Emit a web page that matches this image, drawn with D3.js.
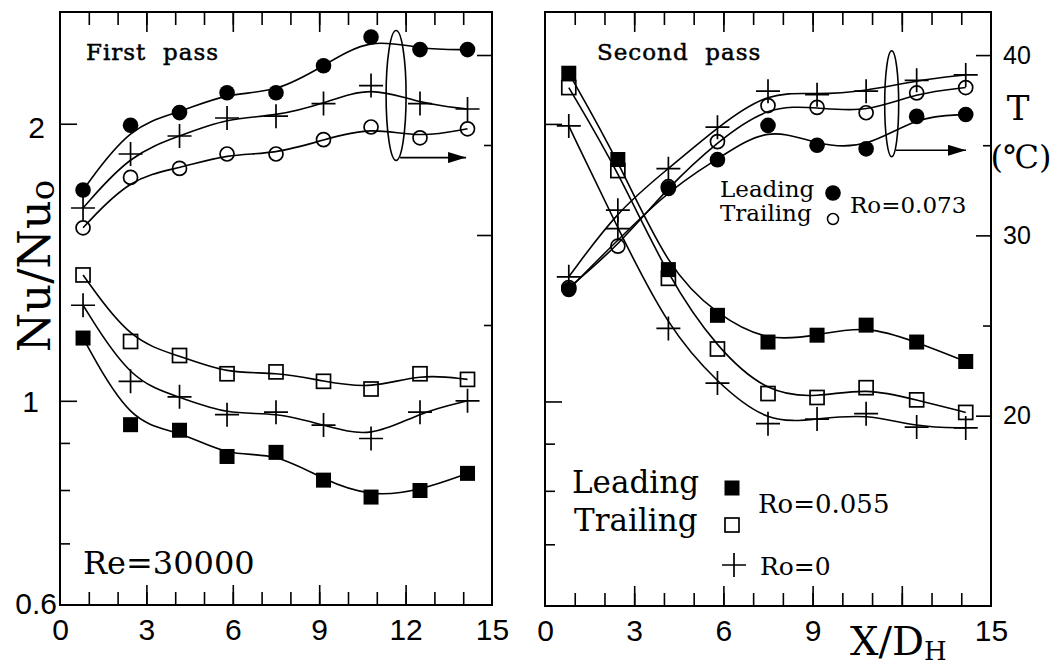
<!DOCTYPE html>
<html>
<head>
<meta charset="utf-8">
<script src="https://d3js.org/d3.v7.min.js"></script>
<style>
body { margin: 0; background: #fff; }
svg { display: block; background: #fff; }
</style>
</head>
<body>
<svg id="drawing_region"></svg>
<script>
// measuring stations along the duct, X/DH
const xStations = [0.8, 2.45, 4.15, 5.8, 7.5, 9.15, 10.8, 12.5, 14.15];

// first pass: wall temperature (right axis, deg C)
const tLead1  = [32.5, 36.1, 36.8, 37.9, 37.9, 39.4, 41.0, 40.3, 40.3];
const tRo0_1  = [31.5, 34.5, 35.5, 36.5, 36.6, 37.3, 38.3, 37.3, 37.0];
const tTrail1 = [30.4, 33.2, 33.7, 34.5, 34.5, 35.3, 36.0, 35.4, 35.9];
// first pass: Nu/Nu0 (left axis)
const nuTrail1 = [1.37, 1.16, 1.12, 1.07, 1.075, 1.05, 1.03, 1.07, 1.055];
const nuRo0_1  = [1.27, 1.05, 1.01, 0.966, 0.972, 0.941, 0.91, 0.972, 1.0];
const nuLead1  = [1.17, 0.942, 0.929, 0.87, 0.879, 0.82, 0.786, 0.799, 0.834];

// second pass
const tLead2  = [27.0, null, 32.6, 34.2, 36.1, 35.0, 34.8, 36.6, 36.7];
const tTrail2 = [27.1, 29.4, 32.7, 35.2, 37.2, 37.1, 36.8, 37.9, 38.2];
const tRo0_2  = [27.7, 31.4, 33.7, 36.0, 38.0, 37.8, 38.0, 38.6, 38.9];
const nuLead2  = [2.27, 1.83, 1.39, 1.24, 1.16, 1.18, 1.21, 1.16, 1.105];
const nuTrail2 = [2.19, 1.78, 1.36, 1.14, 1.02, 1.01, 1.035, 1.004, 0.973];
const nuRo0_2  = [1.99, 1.54, 1.20, 1.047, 0.946, 0.957, 0.970, 0.938, 0.936];

// ticks
const xMinorTicks = d3.range(1, 15);
const xMajorTicks = [3, 6, 9, 12];
const nuMinorTicks = [0.7, 0.8, 0.9];
const nuMajorTicks = [1, 2];
const nuLabels = [0.6, 1, 2];
const tMinorTicks = [25, 35];
const tMajorTicks = [20, 30, 40];
const tLabels = [20, 30, 40];

const nuDomain = [0.6, 2.645];
const tDomain = [9.444, 42.389];

const serif = '"DejaVu Serif", serif';
const sans = '"Liberation Sans", Arial, sans-serif';

const svg = d3.select('#drawing_region')
    .attr('width', 1056)
    .attr('height', 666);

svg.append('defs').append('marker')
    .attr('id', 'arrowhead')
    .attr('markerUnits', 'userSpaceOnUse')
    .attr('markerWidth', 19).attr('markerHeight', 11)
    .attr('refX', 18).attr('refY', 5.5)
    .attr('orient', 'auto')
    .append('path')
    .attr('d', 'M0,0 L18,5.5 L0,11 Z')
    .attr('fill', '#000');

function drawMarker(g, type, cx, cy) {
    if (type == 'fcircle') {
        g.append('circle').attr('cx', cx).attr('cy', cy).attr('r', 7.8).attr('fill', '#000');
    } else if (type == 'ocircle') {
        g.append('circle').attr('cx', cx).attr('cy', cy).attr('r', 7)
            .attr('fill', 'none').attr('stroke', '#000').attr('stroke-width', 1.7);
    } else if (type == 'fsquare') {
        g.append('rect').attr('x', cx - 7.5).attr('y', cy - 7.5).attr('width', 15).attr('height', 15).attr('fill', '#000');
    } else if (type == 'osquare') {
        g.append('rect').attr('x', cx - 7).attr('y', cy - 7).attr('width', 14).attr('height', 14)
            .attr('fill', 'none').attr('stroke', '#000').attr('stroke-width', 1.7);
    } else {
        g.append('path').attr('d', `M${cx-12},${cy} H${cx+12} M${cx},${cy-12} V${cy+12}`)
            .attr('stroke', '#000').attr('stroke-width', 1.7);
    }
}

function drawPanel(cfg) {
    const g = svg.append('g');
    const x = d3.scaleLinear().domain([0, 15]).range([cfg.left, cfg.right]);
    const yNu = d3.scaleLog().domain(nuDomain).range([cfg.bottom, cfg.top]);
    const yT = d3.scaleLinear().domain(tDomain).range([cfg.bottom, cfg.top]);

    const addTicks = (axis, transform) => {
        const a = g.append('g').attr('transform', transform).call(axis);
        a.select('.domain').remove();
        a.selectAll('line').attr('stroke', '#000').attr('stroke-width', 1.6);
        a.selectAll('text').remove();
    };
    addTicks(d3.axisBottom(x).tickValues(xMinorTicks).tickSize(-13), `translate(0,${cfg.bottom})`);
    addTicks(d3.axisBottom(x).tickValues(xMajorTicks).tickSize(-20), `translate(0,${cfg.bottom})`);
    addTicks(d3.axisTop(x).tickValues(xMinorTicks).tickSize(-13), `translate(0,${cfg.top})`);
    addTicks(d3.axisTop(x).tickValues(xMajorTicks).tickSize(-20), `translate(0,${cfg.top})`);
    addTicks(d3.axisLeft(yNu).tickValues(nuMinorTicks).tickSize(-10), `translate(${cfg.left},0)`);
    addTicks(d3.axisLeft(yNu).tickValues(nuMajorTicks).tickSize(-17), `translate(${cfg.left},0)`);
    addTicks(d3.axisRight(yT).tickValues(tMinorTicks).tickSize(-8), `translate(${cfg.right},0)`);
    addTicks(d3.axisRight(yT).tickValues(tMajorTicks.filter(v => v >= cfg.tMin)).tickSize(-15), `translate(${cfg.right},0)`);

    g.append('rect')
        .attr('x', cfg.left).attr('y', cfg.top)
        .attr('width', cfg.right - cfg.left).attr('height', cfg.bottom - cfg.top)
        .attr('fill', 'none').attr('stroke', '#000').attr('stroke-width', 2);

    // x labels
    const xl = g.append('g').attr('transform', `translate(0,${cfg.bottom})`)
        .call(d3.axisBottom(x).tickValues(cfg.xLabels).tickSize(0).tickFormat(d3.format('d')));
    xl.select('.domain').remove();
    xl.selectAll('text').attr('y', 35).attr('dy', 0)
        .attr('font-family', sans).attr('font-size', 30).attr('fill', '#000');

    // curves
    const line = (ys) => d3.line().x(d => x(d[0])).y(d => ys(d[1])).curve(d3.curveBasis);
    cfg.series.forEach(s => {
        const ys = s.axis == 'T' ? yT : yNu;
        const pts = xStations.map((xv, i) => [xv, s.vals[i]]).filter(d => d[1] != null);
        g.append('path').attr('d', line(ys)(pts))
            .attr('fill', 'none').attr('stroke', '#000').attr('stroke-width', 1.6);
    });
    cfg.series.forEach(s => {
        const ys = s.axis == 'T' ? yT : yNu;
        xStations.forEach((xv, i) => {
            if (s.vals[i] != null) drawMarker(g, s.type, x(xv), ys(s.vals[i]));
        });
    });

    // ellipse and arrow pointing to the temperature axis
    g.append('ellipse')
        .attr('cx', x(cfg.ellX)).attr('cy', yT(cfg.ellT))
        .attr('rx', cfg.ellRx).attr('ry', cfg.ellRy)
        .attr('fill', 'none').attr('stroke', '#000').attr('stroke-width', 1.6);
    g.append('line')
        .attr('x1', x(cfg.ellX) + 4).attr('x2', x(cfg.arrowEnd))
        .attr('y1', yT(cfg.arrowT)).attr('y2', yT(cfg.arrowT))
        .attr('stroke', '#000').attr('stroke-width', 1.6)
        .attr('marker-end', 'url(#arrowhead)');

    g.append('text')
        .attr('x', cfg.titleX).attr('y', 60)
        .attr('font-family', serif).attr('font-size', 23)
        .attr('letter-spacing', 1)
        .attr('stroke', '#000').attr('stroke-width', 0.5)
        .style('white-space', 'pre')
        .text(cfg.title);

    return {x, yNu, yT, g};
}

const p1 = drawPanel({
    left: 60, right: 492, top: 12, bottom: 605, tMin: 30,
    xLabels: [0, 3, 6, 9, 12, 15],
    title: 'First  pass', titleX: 86,
    ellX: 11.67, ellT: 37.75, ellRx: 10, ellRy: 65, arrowT: 34.3, arrowEnd: 14.1,
    series: [
        {vals: tTrail1, type: 'ocircle', axis: 'T'},
        {vals: tRo0_1, type: 'plus', axis: 'T'},
        {vals: tLead1, type: 'fcircle', axis: 'T'},
        {vals: nuTrail1, type: 'osquare', axis: 'Nu'},
        {vals: nuRo0_1, type: 'plus', axis: 'Nu'},
        {vals: nuLead1, type: 'fsquare', axis: 'Nu'}
    ]
});

const p2 = drawPanel({
    left: 545, right: 991, top: 12, bottom: 606, tMin: 20,
    xLabels: [0, 3, 6, 9, 15],
    title: 'Second  pass', titleX: 597,
    ellX: 11.66, ellT: 37.3, ellRx: 7, ellRy: 53, arrowT: 34.72, arrowEnd: 14.16,
    series: [
        {vals: tTrail2, type: 'ocircle', axis: 'T'},
        {vals: tRo0_2, type: 'plus', axis: 'T'},
        {vals: tLead2, type: 'fcircle', axis: 'T'},
        {vals: nuTrail2, type: 'osquare', axis: 'Nu'},
        {vals: nuRo0_2, type: 'plus', axis: 'Nu'},
        {vals: nuLead2, type: 'fsquare', axis: 'Nu'}
    ]
});

// Nu/Nu0 labels on the left of the first panel
const labelShift = {0.6: [-3, 8], 1: [-21, 11], 2: [-15, 14]};
const yl = svg.append('g').attr('transform', 'translate(60,0)')
    .call(d3.axisLeft(p1.yNu).tickValues(nuLabels).tickSize(0).tickFormat(d3.format('')));
yl.select('.domain').remove();
yl.selectAll('text')
    .attr('x', d => labelShift[d][0]).attr('dy', d => labelShift[d][1])
    .attr('font-family', sans).attr('font-size', 30).attr('fill', '#000');

// temperature labels on the right of the second panel
const tl = svg.append('g').attr('transform', 'translate(991,0)')
    .call(d3.axisRight(p2.yT).tickValues(tLabels).tickSize(0).tickPadding(12));
tl.select('.domain').remove();
tl.selectAll('text').attr('font-family', sans).attr('font-size', 25).attr('fill', '#000');

// axis titles
svg.append('text')
    .attr('transform', 'translate(50,266) rotate(-90)')
    .attr('text-anchor', 'middle')
    .attr('font-family', serif).attr('font-size', 45)
    .text('Nu/Nu')
    .append('tspan').attr('font-size', 34).attr('dy', 4).text('o');

const xt = svg.append('text')
    .attr('x', 850).attr('y', 655)
    .attr('font-family', serif).attr('font-size', 40)
    .text('X/D');
xt.append('tspan').attr('font-size', 26).attr('dy', 5).text('H');

svg.append('text').attr('x', 1018).attr('y', 120).attr('text-anchor', 'middle')
    .attr('font-family', serif).attr('font-size', 34).text('T');
svg.append('text').attr('x', 1021).attr('y', 168).attr('text-anchor', 'middle')
    .attr('font-family', serif).attr('font-size', 32).text('(℃)');

// annotations
svg.append('text').attr('x', 83).attr('y', 574)
    .attr('font-family', serif).attr('font-size', 32).text('Re=30000');

// legend for Ro=0.073 (temperature)
svg.append('text').attr('x', 720).attr('y', 197)
    .attr('font-family', serif).attr('font-size', 23).text('Leading');
svg.append('text').attr('x', 720).attr('y', 221)
    .attr('font-family', serif).attr('font-size', 23).text('Trailing');
drawMarker(svg, 'fcircle', 833, 193);
svg.append('circle').attr('cx', 833).attr('cy', 219).attr('r', 5.5)
    .attr('fill', 'none').attr('stroke', '#000').attr('stroke-width', 1.5);
svg.append('text').attr('x', 850).attr('y', 213)
    .attr('font-family', serif).attr('font-size', 23).text('Ro=0.073');

// legend for Ro=0.055 (Nu)
svg.append('text').attr('x', 572).attr('y', 493)
    .attr('font-family', serif).attr('font-size', 31).text('Leading');
svg.append('text').attr('x', 574).attr('y', 531)
    .attr('font-family', serif).attr('font-size', 31).text('Trailing');
drawMarker(svg, 'fsquare', 732, 488);
drawMarker(svg, 'osquare', 732, 525);
svg.append('text').attr('x', 758).attr('y', 513)
    .attr('font-family', serif).attr('font-size', 26).text('Ro=0.055');
drawMarker(svg, 'plus', 734, 565);
svg.append('text').attr('x', 760).attr('y', 575)
    .attr('font-family', serif).attr('font-size', 25).text('Ro=0');
</script>
</body>
</html>
